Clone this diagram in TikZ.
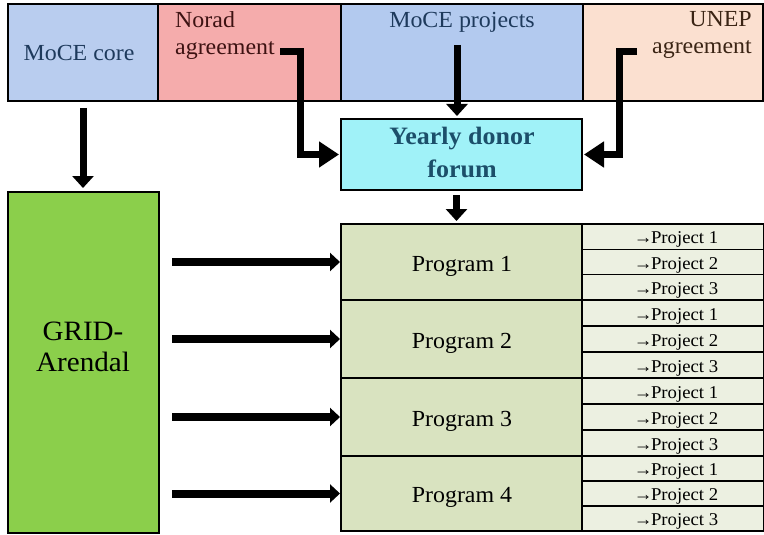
\documentclass[tikz,border=0pt]{standalone}
\usepackage{fontspec}
\setmainfont[FakeStretch=1.04]{Liberation Serif}
\usetikzlibrary{arrows.meta}
\definecolor{corefill}{HTML}{B9CDEF}
\definecolor{noradfill}{HTML}{F5ACAC}
\definecolor{projfill}{HTML}{B3CAEF}
\definecolor{unepfill}{HTML}{FBE0D0}
\definecolor{forumfill}{HTML}{A0F2F8}
\definecolor{forumtext}{HTML}{1C4F6A}
\definecolor{gridfill}{HTML}{8BCF4B}
\definecolor{progfill}{HTML}{D9E3C0}
\definecolor{cellfill}{HTML}{ECF0E1}
\definecolor{bluetext}{HTML}{1E3A5C}
\definecolor{redtext}{HTML}{3D1212}
\definecolor{browntext}{HTML}{3A2414}
\begin{document}
\begin{tikzpicture}[x=1pt,y=-1pt,
  box/.style={draw=black, line width=1.4pt, inner sep=0pt, outer sep=0pt, anchor=north west},
  toptext/.style={inner sep=0pt, font=\fontsize{23}{27}\selectfont},
  progtext/.style={inner sep=0pt, anchor=base, font=\fontsize{23}{27}\selectfont},
  celltext/.style={inner sep=0pt, anchor=base, font=\fontsize{18}{20}\selectfont},
  straight/.style={line width=7pt, -{Triangle[width=21pt,length=12pt]}},
  elbow/.style={line width=7pt, line join=miter, -{Triangle[width=25pt,length=20pt]}},
  side/.style={line width=8pt, -{Triangle[width=18pt,length=10pt]}}]
\useasboundingbox (0,0) rectangle (764,535);
% top row
\node[box, fill=corefill, minimum width=150pt, minimum height=97pt] (core) at (8,4) {};
\node[box, fill=noradfill, minimum width=183pt, minimum height=97pt] (norad) at (158,4) {};
\node[box, fill=projfill, minimum width=242pt, minimum height=97pt] (moceproj) at (341,4) {};
\node[box, fill=unepfill, minimum width=180pt, minimum height=97pt] (unep) at (583,4) {};
\node[toptext, anchor=base, text=bluetext] (coreT) at (79,61) {MoCE core};
\node[toptext, anchor=north west, align=left, text=redtext] (noradT) at (175,11) {Norad\\agreement};
\node[toptext, anchor=base, text=bluetext] (moceprojT) at (462,28) {MoCE projects};
\node[toptext, anchor=north east, align=right, text=browntext] (unepT) at (752,11) {UNEP\\agreement};
% forum
\node[box, fill=forumfill, minimum width=241pt, minimum height=71pt] (forum) at (341,119) {};
\node[inner sep=0pt, align=center, text=forumtext, font=\fontsize{25}{33}\selectfont\bfseries] (forumT) at (462,152) {Yearly donor\\forum};
% GRID-Arendal
\node[box, fill=gridfill, minimum width=151pt, minimum height=341pt] (grid) at (8,192) {};
\node[inner sep=0pt, align=center, font=\fontsize{28}{31}\selectfont] (gridT) at (83,347) {GRID-\\Arendal};
% programs and projects
\foreach \i/\t/\b in {1/224/300, 2/300/378, 3/378/456, 4/456/531} {
  \pgfmathsetmacro\h{\b-\t}
  \pgfmathsetmacro\c{\h/3}
  \node[box, fill=progfill, minimum width=241pt, minimum height=\h pt] (prog\i) at (341,\t) {};
  \node[progtext] (progT\i) at (462,{(\t+\b)/2+9}) {Program \i};
  \foreach \j in {1,2,3} {
    \pgfmathsetmacro\ct{\t+(\j-1)*\c}
    \node[box, fill=cellfill, minimum width=182pt, minimum height=\c pt] (cell\i\j) at (582,\ct) {};
    \node[celltext] (cellT\i\j) at (676,{\ct+\c/2+7}) {→\kern-1.5pt Project \j};
  }
  \draw[side, shorten <=13pt, shorten >=1pt] (grid.east |- prog\i.west) -- (prog\i.west);
}
% arrows
\coordinate (noradStart) at (280,52);
\coordinate (unepStart) at (637,52);
\coordinate (projStart) at (457,45);
\draw[straight, shorten <=7pt, shorten >=4pt] (core.south) -- (core.south |- grid.north);
\draw[elbow, shorten >=2pt] (noradStart) -- ++(20,0) |- (forum.west);
\draw[elbow, shorten >=2pt] (unepStart) -- ++(-18,0) |- (forum.east);
\draw[straight, shorten >=3pt] (projStart) -- (projStart |- forum.north);
\draw[straight, shorten <=5pt, shorten >=3pt] ([xshift=-5pt]forum.south) -- ([xshift=-5pt]forum.south |- prog1.north);
\end{tikzpicture}
\end{document}
